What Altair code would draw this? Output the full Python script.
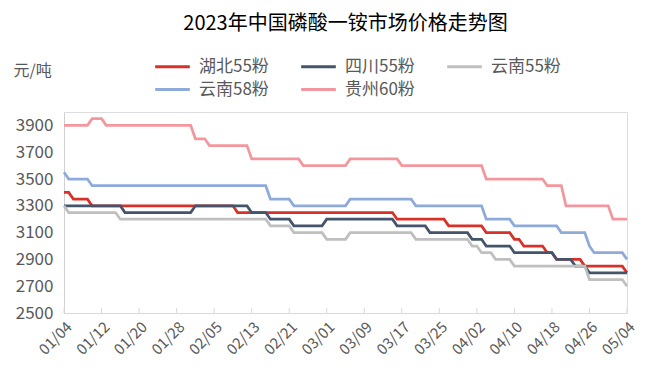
import altair as alt
import pandas as pd

FONT = "Noto Sans CJK SC"

series_names = ["湖北55粉", "四川55粉", "云南55粉", "云南58粉", "贵州60粉"]
series_colors = ["#d7312a", "#44546a", "#bfbfbf", "#8eaadb", "#f3979f"]

# corner points of each stepped series (date, price)
hubei_dates = ["2023-01-04", "2023-01-05", "2023-01-06", "2023-01-09", "2023-01-10", "2023-02-09",
               "2023-02-10", "2023-03-15", "2023-03-16", "2023-03-26", "2023-03-27", "2023-04-03",
               "2023-04-04", "2023-04-09", "2023-04-10", "2023-04-11", "2023-04-12", "2023-04-16",
               "2023-04-17", "2023-04-18", "2023-04-19", "2023-04-24", "2023-04-25", "2023-05-03",
               "2023-05-04"]
hubei_values = [3400, 3400, 3350, 3350, 3300, 3300,
                3250, 3250, 3200, 3200, 3150, 3150,
                3100, 3100, 3050, 3050, 3000, 3000,
                2950, 2950, 2900, 2900, 2850, 2850,
                2800]

sichuan_dates = ["2023-01-04", "2023-01-16", "2023-01-17", "2023-01-31", "2023-02-01", "2023-02-12",
                 "2023-02-13", "2023-02-16", "2023-02-17", "2023-02-21", "2023-02-22", "2023-02-28",
                 "2023-03-01", "2023-03-15", "2023-03-16", "2023-03-22", "2023-03-23", "2023-03-31",
                 "2023-04-01", "2023-04-03", "2023-04-04", "2023-04-09", "2023-04-10", "2023-04-18",
                 "2023-04-19", "2023-04-22", "2023-04-23", "2023-04-25", "2023-04-26", "2023-05-04"]
sichuan_values = [3300, 3300, 3250, 3250, 3300, 3300,
                  3250, 3250, 3200, 3200, 3150, 3150,
                  3200, 3200, 3150, 3150, 3100, 3100,
                  3050, 3050, 3000, 3000, 2950, 2950,
                  2900, 2900, 2850, 2850, 2800, 2800]

yunnan55_dates = ["2023-01-04", "2023-01-05", "2023-01-15", "2023-01-16", "2023-02-16", "2023-02-17",
                  "2023-02-21", "2023-02-22", "2023-02-28", "2023-03-01", "2023-03-05", "2023-03-06",
                  "2023-03-19", "2023-03-20", "2023-03-31", "2023-04-01", "2023-04-02", "2023-04-03",
                  "2023-04-05", "2023-04-06", "2023-04-09", "2023-04-10", "2023-04-25", "2023-04-26",
                  "2023-05-03", "2023-05-04"]
yunnan55_values = [3300, 3250, 3250, 3200, 3200, 3150,
                   3150, 3100, 3100, 3050, 3050, 3100,
                   3100, 3050, 3050, 3000, 3000, 2950,
                   2950, 2900, 2900, 2850, 2850, 2750,
                   2750, 2700]

yunnan58_dates = ["2023-01-04", "2023-01-05", "2023-01-09", "2023-01-10", "2023-02-16", "2023-02-17",
                  "2023-02-21", "2023-02-22", "2023-03-05", "2023-03-06", "2023-03-19", "2023-03-20",
                  "2023-04-03", "2023-04-04", "2023-04-09", "2023-04-10", "2023-04-19", "2023-04-20",
                  "2023-04-25", "2023-04-26", "2023-04-27", "2023-05-03", "2023-05-04"]
yunnan58_values = [3550, 3500, 3500, 3450, 3450, 3350,
                   3350, 3300, 3300, 3350, 3350, 3300,
                   3300, 3200, 3200, 3150, 3150, 3100,
                   3100, 3000, 2950, 2950, 2900]

guizhou_dates = ["2023-01-04", "2023-01-09", "2023-01-10", "2023-01-12", "2023-01-13", "2023-01-31",
                 "2023-02-01", "2023-02-03", "2023-02-04", "2023-02-12", "2023-02-13", "2023-02-23",
                 "2023-02-24", "2023-03-05", "2023-03-06", "2023-03-16", "2023-03-17", "2023-04-03",
                 "2023-04-04", "2023-04-16", "2023-04-17", "2023-04-20", "2023-04-21", "2023-04-30",
                 "2023-05-01", "2023-05-04"]
guizhou_values = [3900, 3900, 3950, 3950, 3900, 3900,
                  3800, 3800, 3750, 3750, 3650, 3650,
                  3600, 3600, 3650, 3650, 3600, 3600,
                  3500, 3500, 3450, 3450, 3300, 3300,
                  3200, 3200]

x_tick_dates = [(1, 4), (1, 12), (1, 20), (1, 28), (2, 5), (2, 13), (2, 21), (3, 1),
                (3, 9), (3, 17), (3, 25), (4, 2), (4, 10), (4, 18), (4, 26), (5, 4)]
y_ticks = [2500, 2700, 2900, 3100, 3300, 3500, 3700, 3900]
y_domain = [2500, 4000]

rows = []
for name, ds, vs in [
    (series_names[0], hubei_dates, hubei_values),
    (series_names[1], sichuan_dates, sichuan_values),
    (series_names[2], yunnan55_dates, yunnan55_values),
    (series_names[3], yunnan58_dates, yunnan58_values),
    (series_names[4], guizhou_dates, guizhou_values),
]:
    for d, v in zip(ds, vs):
        rows.append({"series": name, "date": d, "value": v})
df = pd.DataFrame(rows)

tick_df = pd.DataFrame({"date": [f"2023-{m:02d}-{d:02d}" for m, d in x_tick_dates]})

x_values = [alt.DateTime(year=2023, month=m, date=d, utc=True) for m, d in x_tick_dates]
x_scale = alt.Scale(type="utc", domain=[x_values[0], x_values[-1]])
x_axis = alt.Axis(values=x_values, labelExpr="utcFormat(datum.value, '%m/%d')", labelAngle=-45,
                  labelOverlap=False, labelFlush=False, title=None, grid=False, ticks=False,
                  domainColor="#d9d9d9", labelFontSize=15, labelColor="#595959",
                  labelFont=FONT, labelPadding=6)

lines = alt.Chart(df).mark_line(strokeWidth=2.75, strokeJoin="miter").encode(
    x=alt.X("date:T", scale=x_scale, axis=x_axis),
    y=alt.Y("value:Q", scale=alt.Scale(domain=y_domain, nice=False, zero=False),
            axis=alt.Axis(values=y_ticks, format="d", title="元/吨", titleAngle=0, titleAlign="left",
                          titleBaseline="middle", titleX=-51, titleY=-42, titleFontSize=16,
                          titleFontWeight="normal", titleColor="#595959", titleFont=FONT,
                          grid=False, ticks=False, domainColor="#d0d0d0",
                          labelFontSize=17, labelColor="#595959", labelFont=FONT, labelPadding=11)),
    color=alt.Color("series:N",
                    scale=alt.Scale(domain=series_names, range=series_colors),
                    sort=series_names,
                    legend=alt.Legend(orient="none", legendX=98, legendY=-56, direction="horizontal",
                                      columns=3, title=None, symbolType="M-2,0H2", symbolSize=300,
                                      symbolStrokeWidth=3, labelFontSize=17, labelFont=FONT,
                                      labelColor="#595959", labelOffset=16, columnPadding=26,
                                      rowPadding=4)),
)

ticks = alt.Chart(tick_df).mark_rule(color="#d9d9d9", strokeWidth=1).encode(
    x=alt.X("date:T", scale=x_scale, axis=x_axis),
    y=alt.value(196),
    y2=alt.value(201),
)

chart = alt.layer(ticks, lines).properties(
    width=563,
    height=201,
    padding={"left": 56, "top": 104, "right": 20, "bottom": 60},
    autosize=alt.AutoSizeParams(type="none"),
    title=alt.TitleParams("2023年中国磷酸一铵市场价格走势图", fontSize=20, font=FONT,
                          fontWeight="normal", color="#000000", anchor="middle", offset=22),
).configure_view(stroke=None).configure(font=FONT, background="white")

chart.save("out.html", embed_options={"renderer": "svg", "actions": False})
